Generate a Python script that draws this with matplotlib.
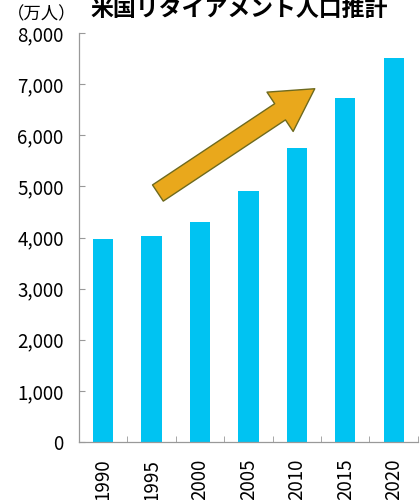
import matplotlib.pyplot as plt
from matplotlib.patches import FancyArrowPatch

plt.rcParams['font.family'] = ['Noto Sans CJK JP', 'DejaVu Sans']

# 米国リタイアメント人口（万人）
nendo = ["1990", "1995", "2000", "2005", "2010", "2015", "2020"]
jinko = [3970, 4030, 4300, 4910, 5750, 6730, 7510]
y_ticks = [0, 1000, 2000, 3000, 4000, 5000, 6000, 7000, 8000]

fig = plt.figure(figsize=(4.2, 5.0), dpi=100)
ax = fig.add_axes([0.188, 0.116, 0.807, 0.818])

x = list(range(len(nendo)))
ax.bar(x, jinko, width=0.42, color='#00C3F2', zorder=2)

ax.set_xlim(-0.5, len(nendo) - 0.5)
ax.set_ylim(0, 8000)
ax.set_yticks(y_ticks)
ax.set_yticklabels([f"{v:,}" for v in y_ticks], fontsize=13.5)
ax.set_xticks(x)
ax.set_xticklabels(nendo, rotation=90, fontsize=13.5)
ax.set_xticks([i + 0.5 for i in x], minor=True)

ax.tick_params(axis='y', direction='in', length=4, color='#999999', pad=11)
ax.tick_params(axis='x', which='major', length=0, pad=12)
ax.tick_params(axis='x', which='minor', direction='in', length=4, color='#999999')

for s in ['top', 'right']:
    ax.spines[s].set_visible(False)
for s in ['left', 'bottom']:
    ax.spines[s].set_color('#999999')
    ax.spines[s].set_linewidth(0.9)

# 増加傾向の矢印
ya = FancyArrowPatch((1.13, 4870), (4.37, 6910),
                     arrowstyle='simple,head_length=3.0,head_width=3.4,tail_width=1.4',
                     mutation_scale=10, shrinkA=0, shrinkB=0,
                     facecolor='#E9A81C', edgecolor='#6E6A1E', linewidth=1.0, zorder=3)
ax.add_patch(ya)

fig.text(0.57, 0.968, "米国リタイアメント人口推計", fontsize=16.5, fontweight='bold',
         ha='center', va='baseline')
fig.text(0.1, 0.962, "（万人）", fontsize=12.5, ha='center', va='baseline')

fig.savefig("out.png", dpi=100)
